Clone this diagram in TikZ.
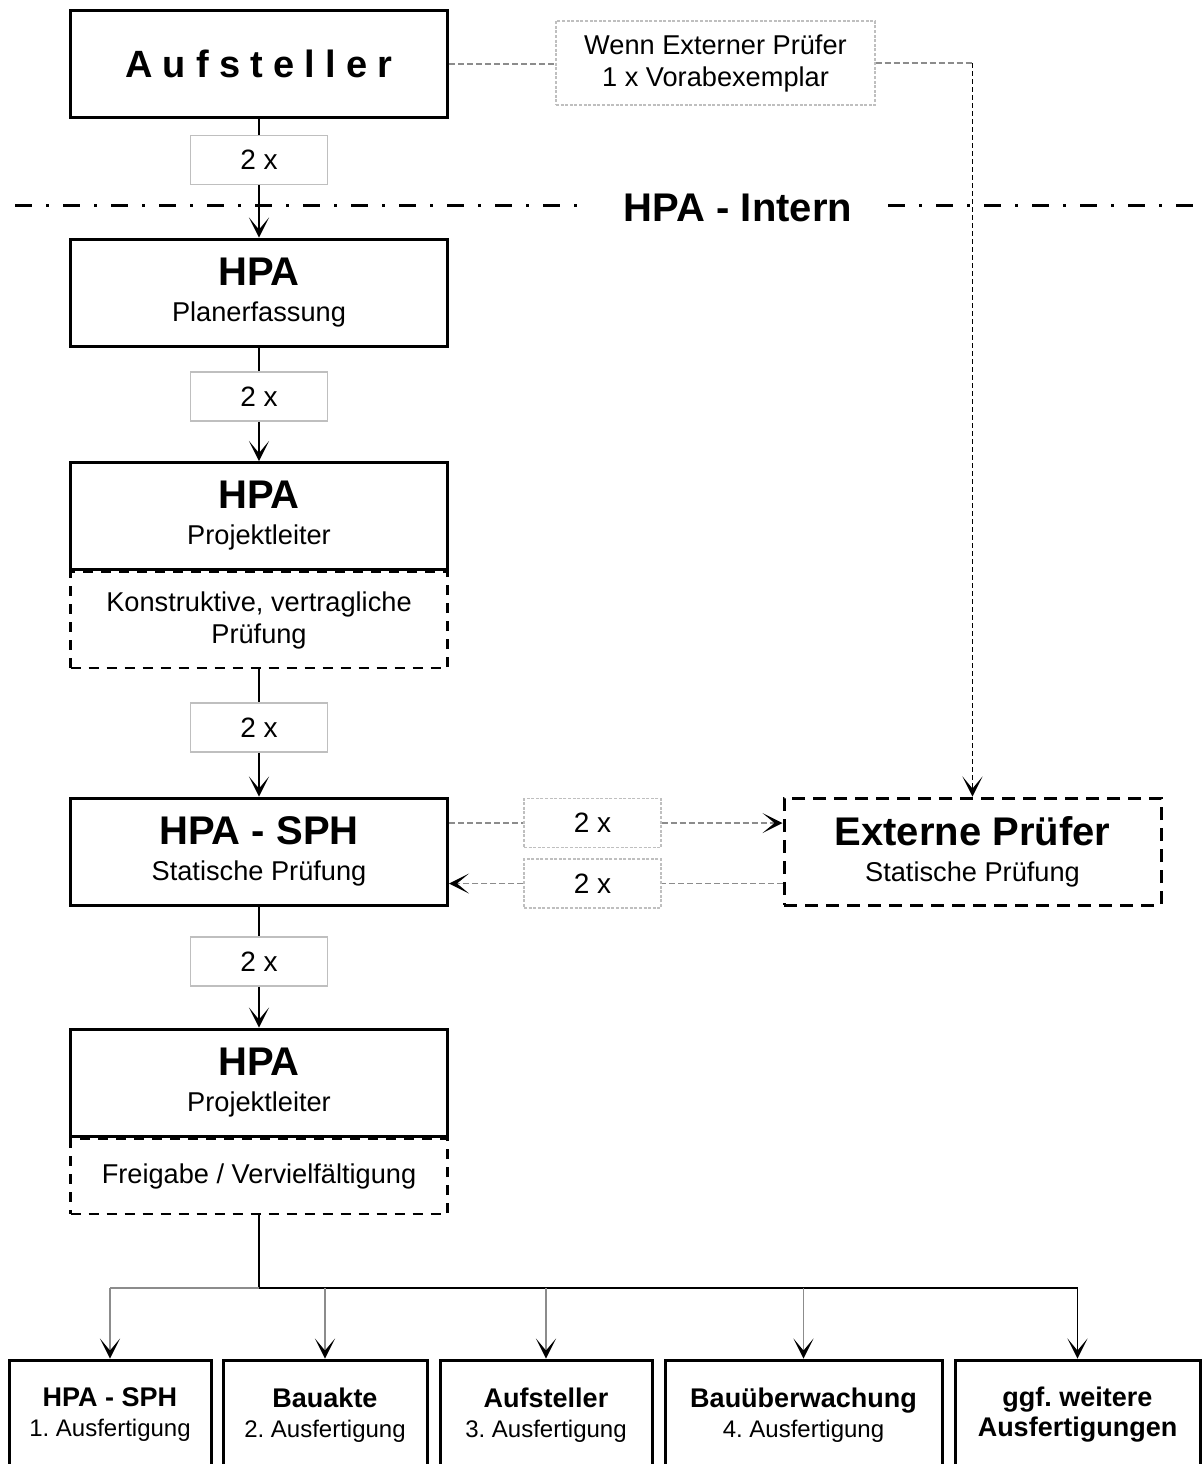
\documentclass[tikz,border=0pt]{standalone}
\usepackage{fontspec}
\setmainfont{Liberation Sans}
\newfontfamily\spacedfont[LetterSpace=27]{Liberation Sans}
\usetikzlibrary{arrows.meta}
\frenchspacing
\newcommand\hpahead{\bfseries\fontsize{20}{22}\selectfont}
\newcommand\hpasub{\fontsize{13.6}{16}\selectfont}
\newcommand\hpacount{\fontsize{14}{16}\selectfont}
\newcommand\outhead{\bfseries\fontsize{13.5}{15}\selectfont}
\newcommand\outsub{\fontsize{12}{14}\selectfont}
\definecolor{countgray}{gray}{0.75}
\definecolor{linegray}{gray}{0.55}
\tikzset{
  mainbox/.style={draw,line width=1.5pt,minimum width=188.5pt,minimum height=53.5pt,align=center,inner sep=0pt,fill=white,font=\hpasub},
  taskbox/.style={draw,dash pattern=on 5pt off 4pt,line width=1.1pt,minimum width=188.5pt,align=center,inner sep=0pt,font=\hpasub},
  countbox/.style={draw=countgray,line width=0.6pt,fill=white,minimum width=68.5pt,minimum height=24.5pt,inner sep=0pt,font=\hpacount},
  notebox/.style={countbox,dash pattern=on 1.5pt off 0.8pt},
  outbox/.style={draw,line width=1.5pt,minimum height=55pt,align=center,inner sep=0pt,font=\outsub},
  conn/.style={line width=0.8pt},
  graydash/.style={draw=linegray,line width=0.8pt,dash pattern=on 3pt off 1.5pt},
  blackdash/.style={line width=0.8pt,dash pattern=on 2.5pt off 1.5pt},
  >={Stealth[length=10pt,width=10pt,inset=6pt,color=black]}
}
\begin{document}
\begin{tikzpicture}[x=0.5pt,y=-0.5pt]
\useasboundingbox (0,0) rectangle (1203,1464);
% boundary HPA - intern
\node[font=\hpahead,inner xsep=18pt,inner ysep=2pt] (intern) at (738,208) {HPA - Intern};
\coordinate (lineL) at (15,205);
\coordinate (lineR) at (1203,205);
\draw[line width=1.5pt,dash pattern=on 8.5pt off 7pt on 1.5pt off 7pt] (lineL) -- (lineL -| intern.west);
\draw[line width=1.5pt,dash pattern=on 8.5pt off 7pt on 1.5pt off 7pt] (intern.east |- lineR) -- (lineR);
% main column
\node[mainbox] (aufst) at (259,64) {\spacedfont\bfseries\fontsize{19}{22}\selectfont Aufsteller};
\node[mainbox] (plan) at (259,292.5) {{\hpahead HPA}\\[2pt]Planerfassung};
\node[mainbox] (proj1) at (259,516) {{\hpahead HPA}\\[2pt]Projektleiter};
\node[taskbox,minimum height=48pt] (kon) at (259,620) {Konstruktive, vertragliche\\Prüfung};
\node[mainbox] (sph) at (259,851.5) {{\hpahead HPA - SPH}\\[2pt]Statische Prüfung};
\node[mainbox] (proj2) at (259,1082.5) {{\hpahead HPA}\\[2pt]Projektleiter};
\node[taskbox,minimum height=37.5pt] (frei) at (259,1176.5) {Freigabe / Vervielfältigung};
\node[countbox] (c1) at (259,160) {2 x};
\node[countbox] (c2) at (259,396.5) {2 x};
\node[countbox] (c3) at (259,727.5) {2 x};
\node[countbox] (c4) at (259,961.5) {2 x};
\draw[conn] (aufst) -- (c1); \draw[conn,->] (c1) -- (plan);
\draw[conn] (plan) -- (c2); \draw[conn,->] (c2) -- (proj1);
\draw[conn] (kon) -- (c3); \draw[conn,->] (c3) -- (sph);
\draw[conn] (sph) -- (c4); \draw[conn,->] (c4) -- (proj2);
% external check
\node[mainbox,dash pattern=on 6.5pt off 4pt] (extern) at (972.5,851.5) {{\hpahead Externe Prüfer}\\[2pt]Statische Prüfung};
\node[notebox,minimum width=159.5pt,minimum height=42pt,align=center,font=\hpasub] (wenn) at (715.5,63) {Wenn Externer Prüfer\\1 x Vorabexemplar};
\node[notebox] (s1) at (592.5,823) {2 x};
\node[notebox] (s2) at (592.5,883.5) {2 x};
\coordinate (bend) at (wenn.east -| extern.north);
\draw[graydash] (aufst) -- (aufst -| wenn.west);
\draw[graydash] (wenn.east) -- (bend);
\draw[blackdash,->] (bend) -- (extern);
\draw[graydash] (sph.east |- s1) -- (s1);
\draw[graydash,->] (s1) -- (s1 -| extern.west);
\draw[graydash] (extern.west |- s2) -- (s2);
\draw[graydash,->] (s2) -- (s2 -| sph.east);
% copies
\foreach \n/\x/\w/\head/\sub in {o1/110/202/HPA - SPH/1. Ausfertigung,o2/325/204/Bauakte/2. Ausfertigung,o3/546/212/Aufsteller/3. Ausfertigung,o4/803.5/277/Bauüberwachung/4. Ausfertigung,o5/1077.5/245/ggf. weitere/{\outhead Ausfertigungen}}{
  \node[outbox,minimum width=\w*0.5pt] (\n) at (\x,1415) {{\outhead \head}\\[1pt]\sub};
}
\coordinate (split) at (259,1288);
\draw[conn] (frei) -- (split);
\draw[conn,draw=linegray,line width=0.6pt] (split) -- (o1 |- split);
\draw[conn] (split) -- (o5 |- split);
\foreach \n in {o1,o2,o3,o4}{
  \draw[draw=linegray,line width=0.6pt,->] (\n |- split) -- (\n);
}
\draw[conn,->] (o5 |- split) -- (o5);
\end{tikzpicture}
\end{document}
